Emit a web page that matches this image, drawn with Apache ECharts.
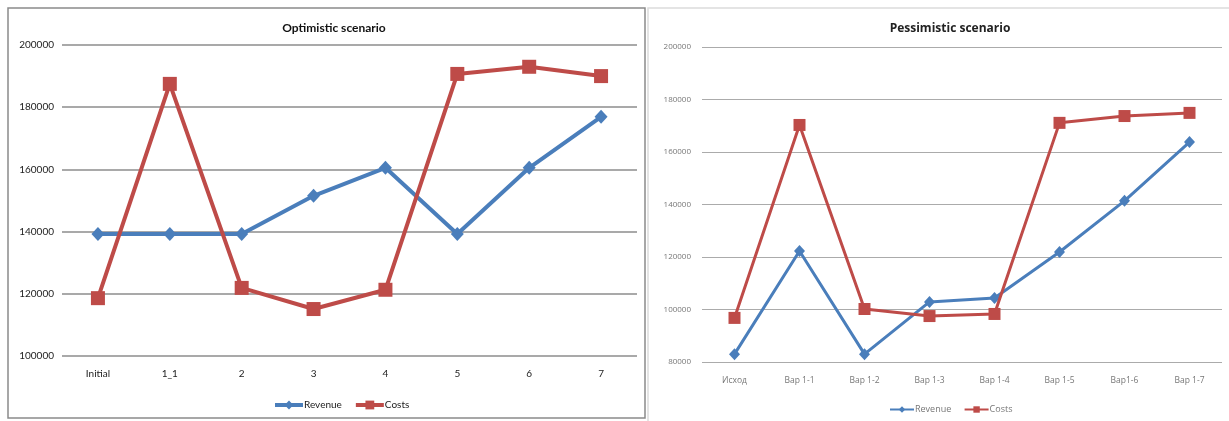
<!DOCTYPE html>
<html>
<head>
<meta charset="utf-8">
<script src="https://cdn.jsdelivr.net/npm/echarts@6/dist/echarts.min.js"></script>
<style>
html,body{margin:0;padding:0;background:#fff;}
#c{width:1229px;height:421px;}
</style>
</head>
<body>
<div id="c"></div>
<script>
// Optimistic scenario
const optCategories = ['Initial', '1_1', '2', '3', '4', '5', '6', '7'];
const optRevenue = [139200, 139200, 139200, 151500, 160500, 139200, 160500, 176900];
const optCosts = [118600, 187500, 121900, 115100, 121300, 190700, 193000, 190000];
const optTicks = [100000, 120000, 140000, 160000, 180000, 200000];

// Pessimistic scenario
const pesCategories = ['Исход', 'Вар 1-1', 'Вар 1-2', 'Вар 1-3', 'Вар 1-4', 'Вар 1-5', 'Вар1-6', 'Вар 1-7'];
const pesRevenue = [83000, 122300, 83000, 102900, 104400, 121900, 141400, 163800];
const pesCosts = [96800, 170300, 100200, 97500, 98300, 171100, 173700, 174900];
const pesTicks = [80000, 100000, 120000, 140000, 160000, 180000, 200000];

const BLUE = '#4A7EBB';
const RED = '#BE4B48';
const LF = 'Lato, "Open Sans", sans-serif';
const RF = '"Open Sans", "DejaVu Sans", sans-serif';

const chart = echarts.init(document.getElementById('c'), null, {renderer: 'canvas'});
chart.setOption({
  animation: false,
  backgroundColor: '#fff',
  graphic: [
    {type: 'rect', shape: {x: 8, y: 8, width: 637, height: 410}, style: {fill: 'none', stroke: '#8a8a8a', lineWidth: 1.5}, z: -1},
    {type: 'rect', shape: {x: 648, y: 8, width: 600, height: 430}, style: {fill: '#fff', stroke: '#dcdcdc', lineWidth: 1.5}, z: 0}
  ],
  title: [
    {text: 'Optimistic scenario', left: 329, top: 17, textAlign: 'center',
     textStyle: {fontFamily: LF, fontSize: 12, fontWeight: 'bold', color: '#111'}},
    {text: 'Pessimistic scenario', left: 945, top: 18, textAlign: 'center',
     textStyle: {fontFamily: RF, fontSize: 12, fontWeight: 'bold', color: '#222'}}
  ],
  legend: [
    {data: ['Revenue', 'Costs'], left: 268, top: 395, itemWidth: 28, itemHeight: 11, itemGap: 12,
     textStyle: {fontFamily: LF, fontSize: 10, color: '#222', padding: [0, 0, 0, -4]},
     lineStyle: {width: 4}},
    {data: ['Revenue ', 'Costs '], left: 884, top: 400, itemWidth: 24, itemHeight: 8, itemGap: 10,
     textStyle: {fontFamily: RF, fontSize: 9, color: '#777', padding: [0, 0, 0, -4]},
     lineStyle: {width: 2}}
  ],
  grid: [
    {left: 62, right: 1229 - 637, top: 45, bottom: 421 - 356, containLabel: false},
    {left: 702, right: 1229 - 1222, top: 47, bottom: 421 - 362, containLabel: false}
  ],
  xAxis: [
    {type: 'category', gridIndex: 0, data: optCategories, boundaryGap: true,
     axisLine: {show: false}, axisTick: {show: false},
     axisLabel: {fontFamily: LF, fontSize: 10, color: '#222', margin: 13}},
    {type: 'category', gridIndex: 1, data: pesCategories, boundaryGap: true,
     axisLine: {show: false}, axisTick: {show: false},
     axisLabel: {fontFamily: RF, fontSize: 8.5, color: '#777', margin: 14}}
  ],
  yAxis: [
    {type: 'value', gridIndex: 0, min: optTicks[0], max: optTicks[optTicks.length - 1], interval: 20000,
     axisLine: {show: false}, axisTick: {show: false},
     axisLabel: {fontFamily: LF, fontSize: 10, color: '#222', margin: 8, formatter: v => String(v)},
     splitLine: {lineStyle: {color: '#8c8c8c', width: 1.5}}},
    {type: 'value', gridIndex: 1, min: pesTicks[0], max: pesTicks[pesTicks.length - 1], interval: 20000,
     axisLine: {show: false}, axisTick: {show: false},
     axisLabel: {fontFamily: RF, fontSize: 8, color: '#777', margin: 11, formatter: v => String(v)},
     splitLine: {lineStyle: {color: '#ababab', width: 1.2}}}
  ],
  series: [
    {name: 'Revenue', type: 'line', xAxisIndex: 0, yAxisIndex: 0, data: optRevenue,
     symbol: 'diamond', symbolSize: [13, 14], color: BLUE, lineStyle: {width: 4, color: BLUE}, z: 3},
    {name: 'Costs', type: 'line', xAxisIndex: 0, yAxisIndex: 0, data: optCosts,
     symbol: 'rect', symbolSize: 14, color: RED, lineStyle: {width: 4, color: RED}, z: 4},
    {name: 'Revenue ', type: 'line', xAxisIndex: 1, yAxisIndex: 1, data: pesRevenue,
     symbol: 'diamond', symbolSize: [11, 12], color: BLUE, lineStyle: {width: 3, color: BLUE}, z: 3},
    {name: 'Costs ', type: 'line', xAxisIndex: 1, yAxisIndex: 1, data: pesCosts,
     symbol: 'rect', symbolSize: 12, color: RED, lineStyle: {width: 3, color: RED}, z: 4}
  ]
});
</script>
</body>
</html>
